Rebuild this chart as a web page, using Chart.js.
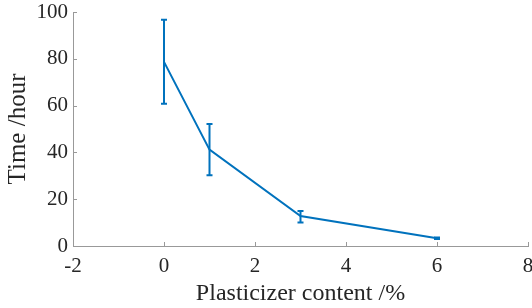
<!DOCTYPE html>
<html>
<head>
<meta charset="utf-8">
<script src="https://cdn.jsdelivr.net/npm/chart.js@4"></script>
<style>
  html, body { margin: 0; padding: 0; background: #fff; }
  #wrap { width: 532px; height: 308px; }
</style>
</head>
<body>
<div id="wrap"><canvas id="myChart"></canvas></div>
<script>
// values
const contents = [0, 1, 3, 6];          // plasticizer content /%
const times = [78.7, 41.2, 12.8, 3.3];  // time /hour
const errLow = [60.8, 30.2, 10.0, 3.0];
const errHigh = [96.7, 52.1, 15.0, 3.6];
const xTicks = [-2, 0, 2, 4, 6, 8];
const yTicks = [0, 20, 40, 60, 80, 100];

const blue = '#0072BD';
const axisGrey = '#999999';
const txt = '#262626';
const serif = '"Liberation Serif", "Times New Roman", serif';
const tickFont = { family: serif, size: 21 };
const titleFont = { family: serif, size: 24 };

// error bars + inward tick marks (MATLAB look)
const extras = {
    id: 'extras',
    afterDatasetsDraw(chart) {
        const { ctx, scales: { x, y } } = chart;
        ctx.save();
        ctx.strokeStyle = blue;
        ctx.lineWidth = 2;
        for (let i = 0; i < contents.length; i++) {
            const px = x.getPixelForValue(contents[i]);
            const top = y.getPixelForValue(errHigh[i]);
            const bot = y.getPixelForValue(errLow[i]);
            ctx.beginPath();
            ctx.moveTo(px, top); ctx.lineTo(px, bot);
            ctx.moveTo(px - 3, top); ctx.lineTo(px + 3, top);
            ctx.moveTo(px - 3, bot); ctx.lineTo(px + 3, bot);
            ctx.stroke();
        }
        ctx.strokeStyle = axisGrey;
        ctx.lineWidth = 1;
        ctx.beginPath();
        xTicks.forEach(v => {
            const px = Math.round(x.getPixelForValue(v)) + 0.5;
            ctx.moveTo(px, y.bottom); ctx.lineTo(px, y.bottom - 4);
        });
        yTicks.forEach(v => {
            const py = Math.round(y.getPixelForValue(v)) + 0.5;
            ctx.moveTo(x.left, py); ctx.lineTo(x.left + 4, py);
        });
        ctx.stroke();
        ctx.restore();
    }
};

const ctx = document.getElementById('myChart').getContext('2d');

const myChart = new Chart(ctx, {
    type: 'line',
    data: {
        datasets: [{
            data: contents.map((c, i) => ({ x: c, y: times[i] })),
            borderColor: blue,
            borderWidth: 2,
            pointRadius: 0,
            fill: false,
            tension: 0
        }]
    },
    options: {
        responsive: true,
        maintainAspectRatio: false,
        animation: false,
        layout: { padding: { top: 12, right: 4, left: 0, bottom: 0 } },
        plugins: { legend: { display: false }, tooltip: { enabled: false } },
        scales: {
            x: {
                type: 'linear',
                min: -2, max: 8,
                afterBuildTicks: s => { s.ticks = xTicks.map(v => ({ value: v })); },
                afterFit: s => { s.height = 62; s.paddingRight = 0; s.paddingLeft = 0; },
                grid: { display: false, drawTicks: false },
                border: { display: true, color: axisGrey, width: 1 },
                ticks: { color: txt, font: tickFont, padding: 8, maxRotation: 0 },
                title: { display: true, text: 'Plasticizer content /%', color: txt, font: titleFont, padding: { top: 0, bottom: 0 } }
            },
            y: {
                min: 0, max: 100,
                afterBuildTicks: s => { s.ticks = yTicks.map(v => ({ value: v })); },
                afterFit: s => { s.width = 73; s.paddingTop = 0; s.paddingBottom = 0; },
                grid: { display: false, drawTicks: false },
                border: { display: true, color: axisGrey, width: 1 },
                ticks: { color: txt, font: tickFont, padding: 5 },
                title: { display: true, text: 'Time /hour', color: txt, font: { family: serif, size: 25 }, padding: { top: 3, bottom: 0 } }
            }
        }
    },
    plugins: [extras]
});
</script>
</body>
</html>
